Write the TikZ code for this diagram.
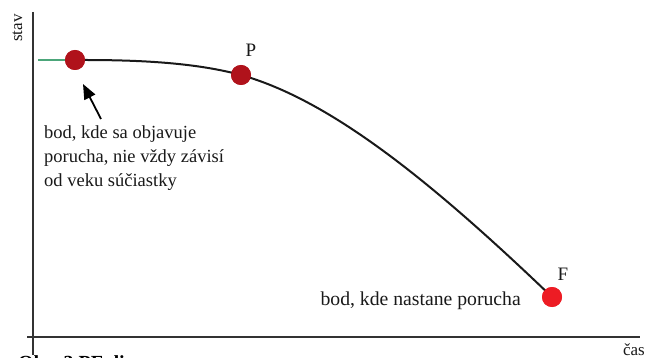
\documentclass[tikz,border=0pt]{standalone}
\usepackage{fontspec}
\setmainfont{Liberation Serif}
\usetikzlibrary{arrows.meta}
\definecolor{darkred}{HTML}{B0121B}
\definecolor{brightred}{HTML}{ED1C24}
\definecolor{greenline}{HTML}{4CA67A}
\definecolor{axisgray}{HTML}{333333}
\tikzset{
  axis/.style={draw=axisgray, line width=1.5pt},
  dot/.style={circle, inner sep=0pt, minimum size=20pt},
  lbl/.style={font=\fontsize{18.5}{24}\selectfont, text=black!90, inner sep=0pt},
  curve/.style={line width=2pt, black!90}
}
\begin{document}
\begin{tikzpicture}[x=1pt,y=-1pt]
\useasboundingbox (0,0) rectangle (648,358);
\clip (0,0) rectangle (648,358);
% axes
\coordinate (ytop) at (33,12);
\coordinate (ybot) at (33,355);
\coordinate (xl) at (27,337);
\coordinate (xr) at (640,337);
\draw[axis] (ytop) -- (ybot);
\draw[axis] (xl) -- (xr);
\node[lbl, font=\fontsize{17}{20}\selectfont, rotate=90, anchor=base] (stav) at (22,28) {stav};
\node[lbl, font=\fontsize{17}{20}\selectfont, anchor=base east] (cas) at (645,355.5) {čas};
% dots
\coordinate (g0) at (38,60);
\node[dot, fill=darkred] (a) at (75,60) {};
\node[dot, fill=darkred] (p) at (241,75) {};
\node[dot, fill=brightred] (f) at (552,297) {};
% curve
\draw[line width=2pt, greenline] (g0) -- (a.center);
\draw[curve] (a.east) .. controls (150,60) and (200,64) .. (p.center);
\draw[curve] (p.center) .. controls (330,100) and (430,180) .. (f.center);
\fill[darkred] (a) circle (10);
\fill[darkred] (p) circle (10);
\fill[brightred] (f) circle (10);
% labels
\node[lbl, font=\fontsize{19}{24}\selectfont, anchor=base] (plbl) at (251,57) {P};
\node[lbl, font=\fontsize{19}{24}\selectfont, anchor=base] (flbl) at (563,280) {F};
\node[lbl, align=left, anchor=base west] (t1) at (44,187) {bod, kde sa objavuje\\porucha, nie vždy závisí\\od veku súčiastky};
\node[lbl, font=\fontsize{19.7}{24}\selectfont, anchor=base east] (t2) at (521,305) {bod, kde nastane porucha};
\coordinate (arrs) at (101,119);
\draw[line width=1.8pt, -{Triangle[length=15pt,width=12pt]}] (arrs) -- (83,84);
\node[font=\bfseries\fontsize{20}{24}\selectfont, anchor=north west, inner sep=0pt] (cap) at (18,355) {Obr. 3 PF diagram};
\end{tikzpicture}
\end{document}
